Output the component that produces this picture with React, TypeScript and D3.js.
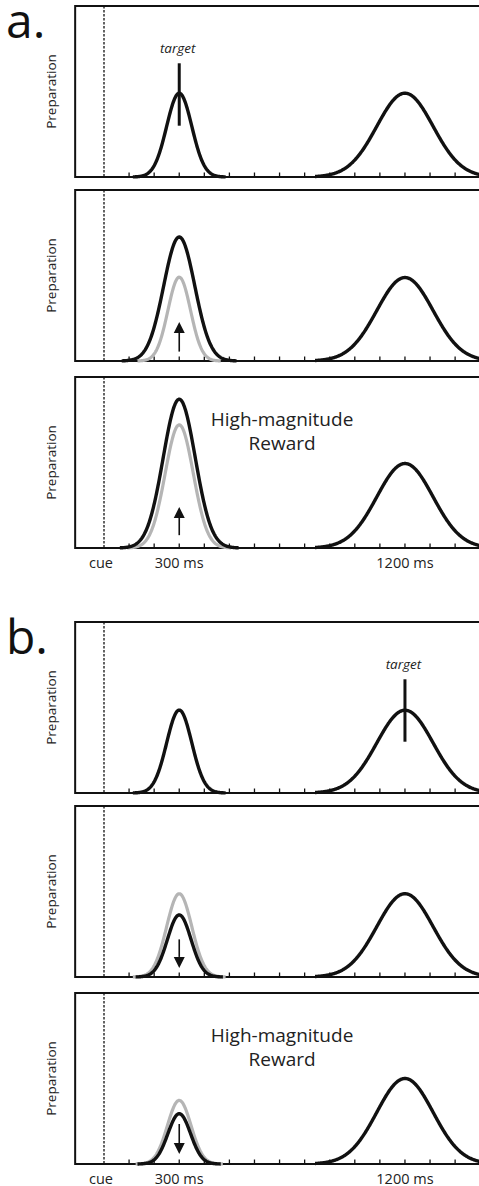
import * as d3 from 'd3';

// time axis (ms) and labels
const tickTimes = [100, 200, 300, 400, 500, 600, 700, 800, 900, 1000, 1100, 1200, 1300, 1400];
const labelTimes = [0, 300, 1200];
const labelTexts = ['cue', '300 ms', '1200 ms'];

// two figure parts, three panels each
const figureLabels = ['a.', 'b.'];
const targetTimes = [300, 1200];
const earlyCenter = 300;
const lateCenter = 1200;

// black (current) early peak
const earlyAmp = [[0.49, 0.725, 0.87], [0.485, 0.363, 0.294]];
const earlySigma = [[50, 62, 64], [50, 47, 45]];
// grey (previous) early peak
const priorAmp = [[null, 0.49, 0.72], [null, 0.487, 0.372]];
const priorSigma = [[null, 45, 56], [null, 50, 47]];
// late peak
const lateAmp = [[0.49, 0.488, 0.494], [0.484, 0.487, 0.5]];
const lateSigma = 112;

// arrows (preparation units)
const arrowFrom = [[null, 0.055, 0.075], [null, 0.22, 0.234]];
const arrowTo = [[null, 0.228, 0.24], [null, 0.053, 0.058]];

const rewardLines = ['High-magnitude', 'Reward'];
const rewardPanel = 2;

const W = 479;
const H = 1186;
const groupTops = [6, 622];
const panelOffsets = [0, 184, 371];
const panelH = 171;
const font = "'Open Sans', sans-serif";

const x = d3.scaleLinear().domain([0, 1500]).range([104, 480.2]);
const frameStart = -115;
const frameEnd = 1530;

const gauss = (c: number, s: number, a: number, k: number) => {
  const pts = d3.range(c - k * s, c + k * s + 1, 2);
  return pts.map(t => [t, a * Math.exp(-0.5 * ((t - c) / s) ** 2)] as [number, number]);
};

const Panel = ({ top, g, p }: { top: number; g: number; p: number }) => {
  const y = d3.scaleLinear().domain([0, 1]).range([top + panelH, top]);
  const line = d3.line<[number, number]>().x(d => x(d[0])).y(d => y(d[1]));
  const pa = priorAmp[g][p];
  const ps = priorSigma[g][p];
  const af = arrowFrom[g][p];
  const at = arrowTo[g][p];
  const ax = x(earlyCenter);
  const mid = top + panelH / 2;
  return (
    <g>
      <rect x={x(frameStart)} y={top} width={x(frameEnd) - x(frameStart)} height={panelH}
        fill="none" stroke="#111" strokeWidth={2} />
      <line x1={x(0)} x2={x(0)} y1={y(1)} y2={y(0)} stroke="#111" strokeWidth={1.3} strokeDasharray="2.5,1.5" />
      {tickTimes.map(t => (
        <line key={t} x1={x(t)} x2={x(t)} y1={y(0)} y2={y(0) - 4.5} stroke="#111" strokeWidth={1.3} />
      ))}
      <text transform={`translate(56,${mid}) rotate(-90)`} textAnchor="middle" fontFamily={font}
        fontSize={13.5} fill="#222">Preparation</text>
      {pa != null && ps != null && (
        <path d={line(gauss(earlyCenter, ps, pa, 3.7)) || ''} fill="none" stroke="#b5b5b5" strokeWidth={3.2} />
      )}
      <path d={line(gauss(earlyCenter, earlySigma[g][p], earlyAmp[g][p], 3.7)) || ''} fill="none"
        stroke="#111" strokeWidth={3.4} strokeLinejoin="round" />
      <path d={line(gauss(lateCenter, lateSigma, lateAmp[g][p], 3.2)) || ''} fill="none"
        stroke="#111" strokeWidth={3.4} strokeLinejoin="round" />
      {af != null && at != null && (() => {
        const dir = at > af ? -1 : 1;
        const tip = y(at);
        const base = tip - dir * 11;
        return (
          <g>
            <line x1={ax} x2={ax} y1={y(af)} y2={base} stroke="#111" strokeWidth={1.6} />
            <path d={`M${ax},${tip}L${ax - 5.5},${base}L${ax + 5.5},${base}Z`} fill="#111" />
          </g>
        );
      })()}
      {p === 0 && (
        <g>
          <line x1={x(targetTimes[g])} x2={x(targetTimes[g])} y1={y(0.665)} y2={y(0.3)} stroke="#111" strokeWidth={3} />
          <text x={x(targetTimes[g]) - 1.5} y={top + 46.5} textAnchor="middle" fontFamily={font}
            fontStyle="italic" fontSize={13.5} fill="#222">target</text>
        </g>
      )}
      {p === rewardPanel && (
        <g>
          {rewardLines.map((s, i) => (
            <text key={s} x={x(710)} y={top + 48.7 + i * 24.3} textAnchor="middle" fontFamily={font}
              fontSize={19} fill="#222">{s}</text>
          ))}
          {labelTimes.map((t, i) => (
            <text key={t} x={x(t) - (t === 0 ? 3 : 0)} y={y(0) + 19.5} textAnchor="middle" fontFamily={font}
              fontSize={14.5} fill="#222">{labelTexts[i]}</text>
          ))}
        </g>
      )}
    </g>
  );
};

export default function App() {
  return (
    <svg width={W} height={H} style={{ position: 'absolute', left: 0, top: 0, background: '#fff' }}>
      {figureLabels.map((lab, g) => (
        <g key={lab}>
          <text x={6} y={groupTops[g] + 32} fontFamily={font} fontSize={48} fill="#111">{lab}</text>
          {panelOffsets.map((o, p) => (
            <Panel key={p} top={groupTops[g] + o} g={g} p={p} />
          ))}
        </g>
      ))}
    </svg>
  );
}
